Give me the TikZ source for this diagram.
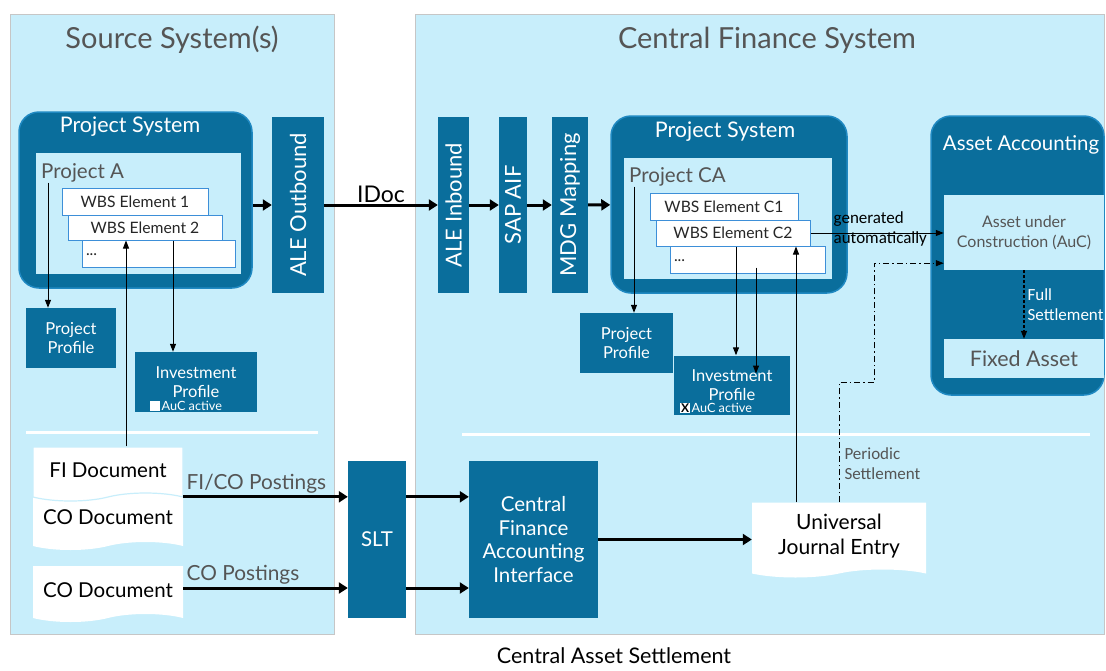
\documentclass[tikz,border=0pt]{standalone}
\usepackage{fontspec}
\setmainfont{Lato}
\newfontfamily\calib{Carlito}
\usetikzlibrary{positioning,arrows.meta,shapes.symbols,calc}
\definecolor{panelBlue}{HTML}{C8EEFB}
\definecolor{sapBlue}{HTML}{0A6E9C}
\definecolor{ringBlue}{HTML}{2089C2}
\definecolor{wbsLine}{HTML}{3D8FD8}
\definecolor{txtGray}{HTML}{555555}

\begin{document}
\begin{tikzpicture}[x=1pt, y=-1pt,
  panel/.style={draw=gray!45, fill=panelBlue, inner sep=0pt},
  heading/.style={text=txtGray, font=\fontsize{29}{34}\selectfont},
  sysBox/.style={draw=ringBlue, line width=1.5pt, fill=sapBlue, rounded corners=20pt, inner sep=0pt},
  sysTitle/.style={text=white, font=\fontsize{21.5}{25}\selectfont},
  innerArea/.style={fill=panelBlue, inner sep=0pt},
  projLbl/.style={text=txtGray, anchor=west, inner sep=0pt, font=\fontsize{20.5}{24}\selectfont},
  wbs/.style={draw=wbsLine, line width=1pt, fill=white, inner sep=0pt, text=black!85, font=\fontsize{15.7}{18}\selectfont},
  profile/.style={fill=sapBlue, text=white, align=center, inner sep=0pt, font=\fontsize{16.5}{19.5}\selectfont},
  chk/.style={fill=white, minimum size=10pt, inner sep=0pt, font=\bfseries\fontsize{12}{12}\selectfont},
  aucLbl/.style={text=white, anchor=west, inner sep=1pt, font=\fontsize{12.7}{14}\selectfont},
  bar/.style={fill=sapBlue, text=white, rotate=90, inner sep=0pt, minimum width=176, font=\fontsize{22}{26}\selectfont},
  doc/.style={tape, tape bend top=none, tape bend bottom=in and out, tape bend height=8pt, fill=white, inner sep=0pt, align=center, font=\fontsize{20.5}{25}\selectfont},
  flow/.style={fill=sapBlue, text=white, align=center, inner sep=0pt, font=\fontsize{20.5}{23.5}\selectfont},
  assetBox/.style={fill=panelBlue, text=txtGray, align=center, inner sep=0pt},
  postLbl/.style={text=txtGray, inner sep=2pt, font=\fontsize{20.8}{24}\selectfont},
  noteLbl/.style={align=left, inner sep=0pt, font=\calib\fontsize{17}{19.5}\selectfont},
  bigArr/.style={-{Triangle[length=9pt,width=11pt]}, line width=3pt},
  thinArr/.style={-{Triangle[length=8pt,width=6pt]}, line width=1pt},
]
\fill[white] (0,0) rectangle (1106,670);
\useasboundingbox (0,0) rectangle (1106,670);

\node[panel, minimum width=324, minimum height=620] (srcPanel) at (172,324) {};
\node[panel, minimum width=689, minimum height=620] (cfPanel) at (759.5,324) {};
\node[heading] (srcTitle) at (172,40) {Source System(s)};
\node[heading] (cfTitle) at (767,40) {Central Finance System};

\node[sysBox, minimum width=233, minimum height=176] (psA) at (135.5,200) {};
\node[sysTitle] (psATitle) at (130,127) {Project System};
\node[innerArea, minimum width=205, minimum height=121] (areaA) at (138.5,213.5) {};
\node[projLbl] (projA) at (41,173) {Project A};
\node[wbs, minimum width=153, minimum height=27, text width=145pt] (dotsA) at (158.5,253.5) {\raisebox{-5pt}{...}};
\node[wbs, minimum width=154, minimum height=25] (wbs2) at (145,227.5) {WBS Element 2};
\node[wbs, minimum width=146, minimum height=27] (wbs1) at (135,201.5) {WBS Element 1};
\node[profile, minimum width=90, minimum height=60] (ppA) at (71,338) {Project\\Profile};
\node[profile, minimum width=122, minimum height=60] (invA) at (196,382) {Investment\\Profile};
\node[chk, anchor=south west] (chkA) at (150,411) {};
\node[aucLbl] (aucA) at (chkA.east) {AuC active};

\node[bar, minimum height=52] (aleOut) at (298,205) {ALE Outbound};
\node[bar, minimum height=31] (aleIn) at (453.5,205) {ALE Inbound};
\node[bar, minimum height=28] (sapAif) at (513,205) {SAP AIF};
\node[bar, minimum height=36] (mdg) at (570,205) {MDG Mapping};

\node[sysBox, minimum width=236, minimum height=177] (psC) at (729,204.5) {};
\node[sysTitle] (psCTitle) at (725,132) {Project System};
\node[innerArea, minimum width=208, minimum height=121] (areaC) at (728,218.5) {};
\node[projLbl] (projCA) at (629,177) {Project CA};
\node[wbs, minimum width=155, minimum height=27, text width=147pt] (dotsC) at (747.5,259.5) {\raisebox{-5pt}{...}};
\node[wbs, minimum width=154, minimum height=26] (wbsC2) at (733,233) {WBS Element C2};
\node[wbs, minimum width=148, minimum height=27] (wbsC1) at (724,206.5) {WBS Element C1};
\node[profile, minimum width=93, minimum height=60] (ppC) at (626.5,343) {Project\\Profile};
\node[profile, minimum width=116, minimum height=59] (invC) at (732,385) {Investment\\Profile};
\node[chk, anchor=south west] (chkC) at (680,413) {X};
\node[aucLbl] (aucC) at (chkC.east) {AuC active};

\node[sysBox, minimum width=173, minimum height=279] (aa) at (1017.5,255.5) {};
\node[sysTitle, font=\fontsize{20.4}{24}\selectfont] (aaTitle) at (1021,145) {Asset Accounting};
\node[assetBox, minimum width=160, minimum height=75, font=\fontsize{16}{20}\selectfont] (auc) at (1024,232.5) {Asset under\\Construction (AuC)};
\node[assetBox, minimum width=160, minimum height=39, font=\fontsize{21.4}{25}\selectfont] (fixedAsset) at (1024,358.5) {Fixed Asset};

\draw[white, line width=3pt] (26,432) -- (318,432);
\draw[white, line width=3pt] (462,434) -- (1090,434);

\node[doc, minimum width=150, minimum height=58] (coDoc1) at (108,517) {CO Document};
\node[doc, draw=panelBlue, line width=1.2pt, minimum width=150, minimum height=54] (fiDoc) at (108,470) {FI Document};
\node[doc, minimum width=150, minimum height=56] (coDoc2) at (108,590) {CO Document};
\node[flow, minimum width=58, minimum height=157] (slt) at (377,539.5) {SLT};
\node[flow, minimum width=129, minimum height=157] (cfai) at (533.5,539.5) {Central\\Finance\\Accounting\\Interface};
\node[doc, minimum width=174, minimum height=75, font=\fontsize{21}{25}\selectfont] (uje) at (839,536) {Universal\\Journal Entry};

\node[font=\fontsize{21.5}{25}\selectfont] (caption) at (614,656) {Central Asset Settlement};

\coordinate (fiOut) at ([yshift=-5pt]coDoc1.north east);
\coordinate (coOut) at ([yshift=2pt]coDoc2.east);

\draw[bigArr] (psA.east |- aleOut) -- (aleOut);
\draw[bigArr] (aleOut) -- node[above, inner sep=1pt, font=\fontsize{23}{27}\selectfont] {IDoc} (aleIn);
\draw[bigArr] (aleIn) -- (sapAif);
\draw[bigArr] (sapAif) -- (mdg);
\draw[bigArr] (mdg) -- (psC);
\draw[bigArr] (fiOut) -- node[postLbl, pos=0, anchor=south west] {FI/CO Postings} (fiOut -| slt.west);
\draw[bigArr] (coOut) -- node[postLbl, pos=0, anchor=south west] {CO Postings} (coOut -| slt.west);
\draw[bigArr] (fiOut -| slt.east) -- (fiOut -| cfai.west);
\draw[bigArr] (coOut -| slt.east) -- (coOut -| cfai.west);
\draw[bigArr] (cfai.east) -- (cfai.east -| uje.west);

\draw[thinArr] ([xshift=7pt]projA.south west) -- ([xshift=7pt]projA.south west |- ppA.north);
\draw[thinArr] ([xshift=28pt]wbs2.south) -- ([xshift=28pt]wbs2.south |- invA.north);
\draw[thinArr] ([xshift=18pt]fiDoc.north) -- ([xshift=18pt]fiDoc.north |- wbs2.south);
\draw[thinArr] ([xshift=5pt]projCA.south west) -- ([xshift=5pt]projCA.south west |- ppC.north);
\draw[thinArr] ([xshift=3pt]wbsC2.south) -- ([xshift=3pt]wbsC2.south |- invC.north);
\draw[thinArr] ([xshift=8.5pt,yshift=6pt]dotsC.south) -- ++(0,106);
\draw[thinArr] ([xshift=-43pt]uje.north) -- ([xshift=-43pt]uje.north |- wbsC2.south);
\draw[thinArr] (wbsC2.east) -- node[noteLbl, pos=0.17, anchor=west, yshift=4pt] {generated\\automatically} (wbsC2.east -| auc.west);
\draw[thinArr, dash pattern=on 6pt off 3pt on 1.5pt off 3pt] (uje.north) -- node[noteLbl, text=txtGray, pos=0.32, anchor=west, xshift=5pt] {Periodic\\Settlement} ++(0,-120) -- ++(35,0) |- ([yshift=7pt]auc.south west);
\draw[thinArr, line width=1.2pt, dash pattern=on 3pt off 2pt] (auc) -- node[noteLbl, text=white, anchor=west, xshift=3pt] {Full\\Settlement} (fixedAsset);
\end{tikzpicture}
\end{document}
